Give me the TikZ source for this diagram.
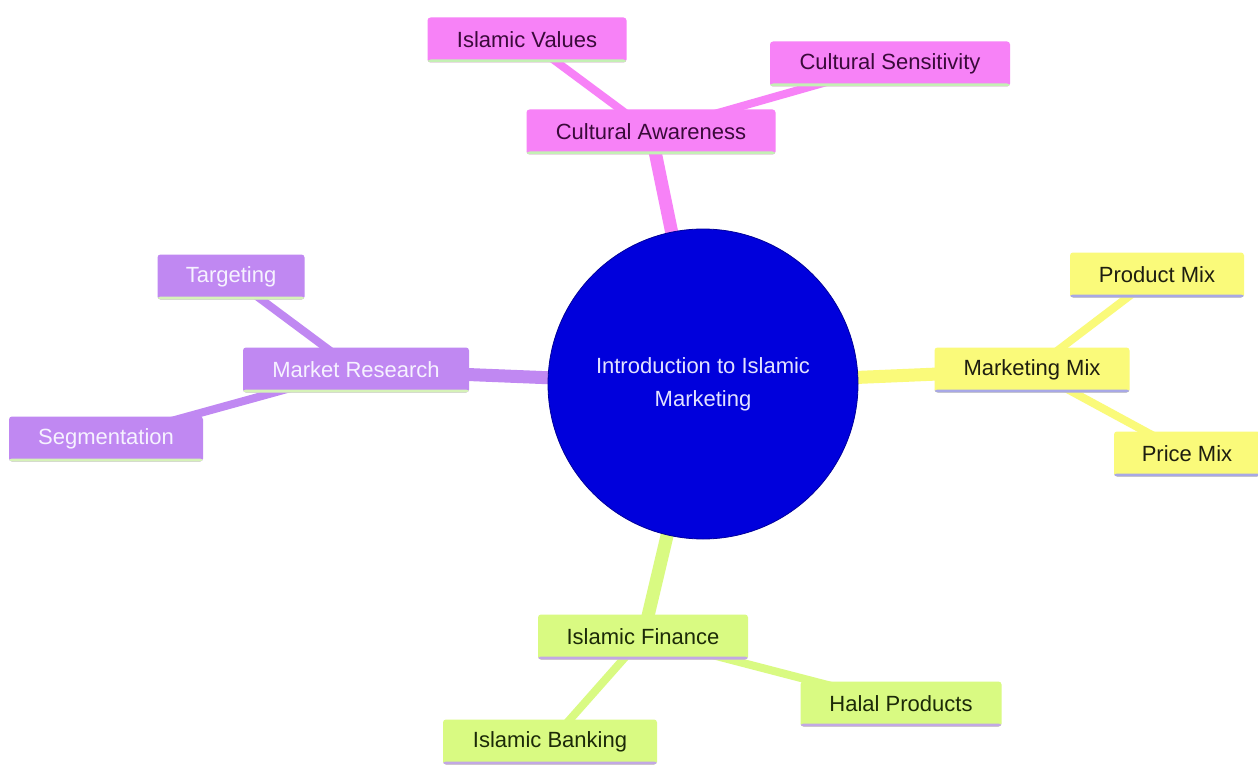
\documentclass[tikz,border=0pt]{standalone}
\usepackage{fontspec}
\setmainfont{Liberation Sans}
\usetikzlibrary{backgrounds}
\definecolor{pinkF}{HTML}{F782F7}
\definecolor{pinkT}{HTML}{3A0A3A}
\definecolor{pinkL}{HTML}{C4F0B4}
\definecolor{purpF}{HTML}{C088F2}
\definecolor{purpT}{HTML}{F6F2FF}
\definecolor{purpL}{HTML}{D6F2B8}
\definecolor{yelF}{HTML}{FAFA7A}
\definecolor{yelT}{HTML}{1E1E10}
\definecolor{yelL}{HTML}{A8A8E6}
\definecolor{grnF}{HTML}{D9FA82}
\definecolor{grnT}{HTML}{1C2A08}
\definecolor{grnL}{HTML}{C2A8E4}
\definecolor{rootF}{HTML}{0000DC}
\definecolor{rootT}{HTML}{E2E2FF}
\tikzset{
  box/.style={rectangle, rounded corners=3pt, inner xsep=0pt, inner ysep=0pt,
    minimum height=45pt, font=\fontsize{22}{26}\selectfont},
  pinkbox/.style={box, fill=pinkF, text=pinkT,
    path picture={\fill[pinkL] ([yshift=3pt]path picture bounding box.south west) rectangle (path picture bounding box.south east);}},
  purpbox/.style={box, fill=purpF, text=purpT,
    path picture={\fill[purpL] ([yshift=3pt]path picture bounding box.south west) rectangle (path picture bounding box.south east);}},
  yelbox/.style={box, fill=yelF, text=yelT,
    path picture={\fill[yelL] ([yshift=3pt]path picture bounding box.south west) rectangle (path picture bounding box.south east);}},
  grnbox/.style={box, fill=grnF, text=grnT,
    path picture={\fill[grnL] ([yshift=3pt]path picture bounding box.south west) rectangle (path picture bounding box.south east);}},
  rootnode/.style={circle, fill=rootF, draw=rootF!70!black, line width=0.8pt, minimum size=310pt,
    text=rootT, align=center, font=\fontsize{22}{33}\selectfont},
  mainedge/.style={line width=13pt},
  subedge/.style={line width=8pt},
}
\begin{document}
\begin{tikzpicture}[x=1pt,y=-1pt]
\useasboundingbox (0,0) rectangle (1258,765);

\node[rootnode] (root) at (703,384) {Introduction to Islamic\\Marketing};

\node[pinkbox, minimum width=249pt] (ca) at (651,132) {Cultural Awareness};
\node[pinkbox, minimum width=199pt] (iv) at (527,40) {Islamic Values};
\node[pinkbox, minimum width=240pt] (cs) at (890,64) {Cultural Sensitivity};

\node[purpbox, minimum width=226pt] (mr) at (356,370) {Market Research};
\node[purpbox, minimum width=147pt] (tg) at (231,277) {Targeting};
\node[purpbox, minimum width=194pt] (sg) at (106,439) {Segmentation};

\node[yelbox, minimum width=195pt] (mm) at (1032,370) {Marketing Mix};
\node[yelbox, minimum width=174pt] (pm) at (1157,275) {Product Mix};
\node[yelbox, minimum width=146pt] (pr) at (1187,454) {Price Mix};

\node[grnbox, minimum width=210pt] (if) at (643,637) {Islamic Finance};
\node[grnbox, minimum width=201pt] (hp) at (901,704) {Halal Products};
\node[grnbox, minimum width=214pt] (ib) at (550,742) {Islamic Banking};

\begin{scope}[on background layer]
\fill[white] (0,0) rectangle (1258,765);
\draw[mainedge, pinkF] (root.center) -- (ca.center);
\draw[subedge, pinkF] (ca.center) -- (iv.center);
\draw[subedge, pinkF] (ca.center) -- (cs.center);
\draw[mainedge, purpF] (root.center) -- (mr.center);
\draw[subedge, purpF] (mr.center) -- (tg.center);
\draw[subedge, purpF] (mr.center) -- (sg.center);
\draw[mainedge, yelF] (root.center) -- (mm.center);
\draw[subedge, yelF] (mm.center) -- (pm.center);
\draw[subedge, yelF] (mm.center) -- (pr.center);
\draw[mainedge, grnF] (root.center) -- (if.center);
\draw[subedge, grnF] (if.center) -- (hp.center);
\draw[subedge, grnF] (if.center) -- (ib.center);
\end{scope}
\end{tikzpicture}
\end{document}
